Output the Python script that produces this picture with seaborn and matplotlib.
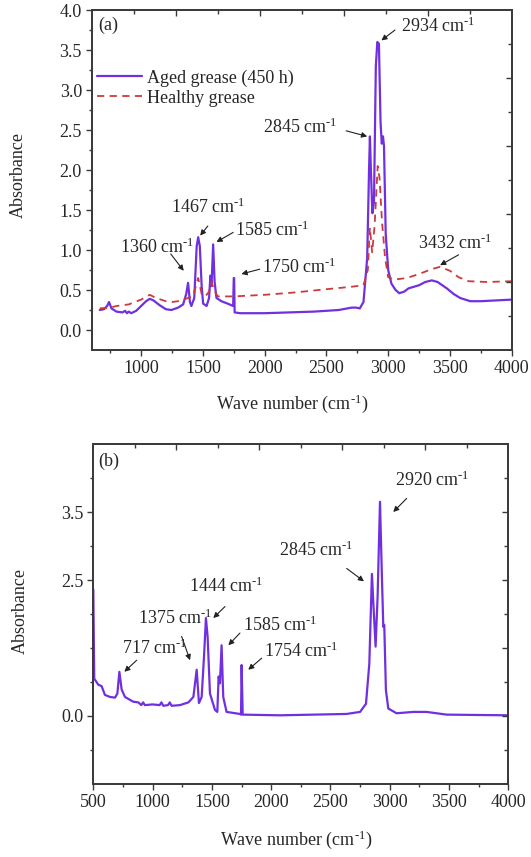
import numpy as np
import pandas as pd
import matplotlib
matplotlib.use("Agg")
import matplotlib.pyplot as plt
import seaborn as sns
from matplotlib.lines import Line2D

# ---------------- data ----------------
# Panel (a): aged grease (450 h)
wave_aged = [665, 700, 725, 740, 760, 800, 850, 870, 885, 900, 920, 960, 1000, 1040, 1070, 1100,
             1150, 1200, 1245, 1300, 1340, 1365, 1380, 1395, 1407, 1430, 1450, 1462, 1475, 1490,
             1502, 1530, 1550, 1561, 1570, 1583, 1595, 1610, 1650, 1700, 1745, 1750, 1753,
             1757, 1800, 2000, 2200, 2400, 2600, 2704, 2740, 2770, 2800, 2830, 2845, 2852,
             2860, 2872, 2885, 2900, 2912, 2925, 2938, 2948, 2958, 2966, 2980, 3000, 3026,
             3060, 3090, 3130, 3164, 3250, 3300, 3353, 3400, 3475, 3530, 3583, 3664, 3750, 4000]
abs_aged = [0.25, 0.26, 0.30, 0.35, 0.27, 0.23, 0.22, 0.24, 0.21, 0.23, 0.21, 0.24, 0.30, 0.36,
            0.39, 0.37, 0.31, 0.26, 0.25, 0.28, 0.32, 0.45, 0.59, 0.35, 0.30, 0.40, 1.05, 1.16,
            1.05, 0.55, 0.33, 0.30, 0.40, 0.68, 0.55, 1.07, 0.60, 0.40, 0.36, 0.33, 0.30, 0.65,
            0.65, 0.22, 0.21, 0.21, 0.22, 0.23, 0.25, 0.28, 0.28, 0.27, 0.35, 0.90, 2.00, 2.42,
            2.00, 1.46, 1.60, 3.30, 3.60, 3.58, 2.60, 2.33, 2.42, 2.30, 1.20, 0.75, 0.58,
            0.50, 0.46, 0.48, 0.52, 0.56, 0.60, 0.62, 0.60, 0.52, 0.45, 0.40, 0.36, 0.36, 0.38]

# Panel (a): healthy grease
wave_healthy = [665, 750, 800, 900, 1000, 1070, 1120, 1200, 1250, 1300, 1380, 1420, 1462, 1490,
                1520, 1550, 1570, 1590, 1620, 1750, 2000, 2250, 2500, 2700, 2800, 2835, 2852,
                2870, 2890, 2915, 2930, 2950, 2975, 3000, 3050, 3150, 3250, 3350, 3420, 3500,
                3570, 3650, 3800, 4000]
abs_healthy = [0.27, 0.28, 0.30, 0.32, 0.38, 0.44, 0.40, 0.36, 0.35, 0.36, 0.40, 0.42, 0.65, 0.45,
               0.42, 0.48, 0.60, 0.50, 0.42, 0.42, 0.44, 0.47, 0.51, 0.54, 0.56, 0.75, 1.28,
               0.97, 1.30, 2.05, 1.90, 1.35, 0.90, 0.66, 0.63, 0.65, 0.70, 0.76, 0.79, 0.74,
               0.66, 0.61, 0.60, 0.61]

# Panel (b): single spectrum
wave_b = [500, 508, 542, 570, 598, 641, 683, 703, 720, 739, 767, 837, 880, 905, 920, 935, 1000,
          1060, 1075, 1090, 1130, 1145, 1160, 1231, 1302, 1344, 1372, 1391, 1414, 1434, 1450,
          1464, 1484, 1526, 1546, 1557, 1568, 1582, 1596, 1624, 1737, 1746, 1751, 1760, 2075,
          2637, 2750, 2800, 2828, 2850, 2862, 2881, 2898, 2918, 2935, 2946, 2954, 2968, 2988,
          3058, 3200, 3311, 3480, 4000]
abs_b = [2.36, 1.05, 0.96, 0.94, 0.81, 0.78, 0.77, 0.83, 1.15, 0.89, 0.78, 0.71, 0.70, 0.66,
         0.70, 0.66, 0.67, 0.66, 0.70, 0.65, 0.66, 0.70, 0.65, 0.66, 0.70, 0.78, 1.18, 0.69,
         0.78, 1.38, 1.94, 1.67, 0.83, 0.59, 0.56, 1.08, 0.98, 1.54, 0.78, 0.56, 0.53, 0.52,
         1.25, 0.52, 0.51, 0.53, 0.56, 0.68, 1.27, 2.59, 2.16, 1.52, 2.26, 3.65, 2.50, 1.81,
         1.84, 0.88, 0.61, 0.54, 0.56, 0.56, 0.52, 0.51]

SUP = "cm$^{\u2010 1}$"
labels_a = ["2934 " + SUP, "2845 " + SUP, "1467 " + SUP, "1585 " + SUP,
            "1360 " + SUP, "1750 " + SUP, "3432 " + SUP]
labels_b = ["2920 " + SUP, "2845 " + SUP, "1444 " + SUP, "1375 " + SUP,
            "1585 " + SUP, "717 " + SUP, "1754 " + SUP]
yticklabels_b = ["0.0", "2.5", "3.5"]

# ---------------- style ----------------
sns.set_style("ticks")
plt.rcParams["font.family"] = ["Liberation Serif", "DejaVu Serif"]
plt.rcParams["mathtext.fontset"] = "custom"
plt.rcParams["mathtext.rm"] = "Liberation Serif"
plt.rcParams["mathtext.it"] = "Liberation Serif:italic"
plt.rcParams["mathtext.bf"] = "Liberation Serif:bold"

PURPLE = "#7030E0"
RED = "#cc3a3a"
SPINE = "#3a3a3a"
FS = 13

fig = plt.figure(figsize=(5.31, 8.57), dpi=100)
ax_a = fig.add_axes([0.1727, 0.5916, 0.7910, 0.3967])
ax_b = fig.add_axes([0.1757, 0.0852, 0.7815, 0.3967])

df_aged = pd.DataFrame({"w": wave_aged, "a": abs_aged})
df_healthy = pd.DataFrame({"w": wave_healthy, "a": abs_healthy})
df_b = pd.DataFrame({"w": wave_b, "a": abs_b})

sns.lineplot(data=df_aged, x="w", y="a", ax=ax_a, color=PURPLE, lw=1.6,
             sort=False, estimator=None, label="Aged grease (450 h)")
sns.lineplot(data=df_healthy, x="w", y="a", ax=ax_a, color=RED, lw=1.3,
             sort=False, estimator=None, label="Healthy grease", dashes=False)
ax_a.lines[-1].set_linestyle((0, (4, 3)))
sns.lineplot(data=df_b, x="w", y="a", ax=ax_b, color=PURPLE, lw=1.6,
             sort=False, estimator=None)


def frame(ax):
    for s in ax.spines.values():
        s.set_color(SPINE)
        s.set_linewidth(1.1)
        s.set_visible(True)
    ax.tick_params(axis="both", which="major", direction="out", length=4, width=1,
                   color=SPINE, labelsize=FS, pad=3, top=False, right=False)
    ax.tick_params(axis="both", which="minor", direction="out", length=2.5, width=1,
                   color=SPINE, top=False, right=False)
    # decorative top/right ticks at tenths of the frame
    tx = ax.twiny()
    tx.set_xlim(0, 10)
    tx.set_xticks([2, 4, 6, 8])
    tx.set_xticks([1, 3, 5, 7, 9], minor=True)
    tx.tick_params(axis="x", which="both", direction="in", labeltop=False, color=SPINE, width=1)
    tx.tick_params(axis="x", which="major", length=4)
    tx.tick_params(axis="x", which="minor", length=3)
    ty = ax.twinx()
    ty.set_ylim(0, 10)
    ty.set_yticks([2, 4, 6, 8])
    ty.set_yticks([1, 3, 5, 7, 9], minor=True)
    ty.tick_params(axis="y", which="both", direction="in", labelright=False, color=SPINE, width=1)
    ty.tick_params(axis="y", which="major", length=4)
    ty.tick_params(axis="y", which="minor", length=3)
    for t in (tx, ty):
        for s in t.spines.values():
            s.set_color(SPINE)
            s.set_linewidth(1.1)


def arrow(ax, tip, tail):
    ax.annotate("", xy=tip, xytext=tail,
                arrowprops=dict(arrowstyle="-|>", color="#222222", lw=0.8,
                                mutation_scale=8, shrinkA=0, shrinkB=0))


# ---------------- panel (a) ----------------
ax_a.set_xlim(600, 4000)
ax_a.set_ylim(-0.25, 4.0)
ax_a.set_xticks(np.arange(1000, 4001, 500))
ax_a.set_xticks(np.arange(750, 4000, 500), minor=True)
ax_a.set_yticks(np.arange(0, 4.01, 0.5))
ax_a.set_yticks(np.arange(0.25, 4.0, 0.5), minor=True)
ax_a.set_yticklabels([f"{v:.1f}" for v in np.arange(0, 4.01, 0.5)])
ax_a.set_xlabel("Wave number (" + SUP + ")", fontsize=FS)
ax_a.set_ylabel("Absorbance", fontsize=FS)
ax_a.xaxis.set_label_coords(0.477, -0.125)
ax_a.yaxis.set_label_coords(-0.155, 0.515)
ax_a.text(0.015, 0.956, "(a)", transform=ax_a.transAxes, ha="left", va="center", fontsize=FS)

handles = [Line2D([], [], color=PURPLE, lw=1.6),
           Line2D([], [], color=RED, lw=1.3, linestyle=(0, (4, 3)))]
ax_a.legend(handles, ["Aged grease (450 h)", "Healthy grease"], loc="upper left",
            bbox_to_anchor=(0.012, 0.825), frameon=False, fontsize=FS, handlelength=2.5,
            handletextpad=0.3, labelspacing=0.15, borderpad=0, borderaxespad=0)

ann_a = [  # text position, arrow tip, arrow tail
    ((3100, 3.80), (2945, 3.62), (3055, 3.75)),
    ((1990, 2.54), (2830, 2.42), (2660, 2.49)),
    ((1240, 1.54), (1478, 1.18), (1540, 1.30)),
    ((1760, 1.25), (1610, 1.10), (1745, 1.22)),
    ((830, 1.03), (1345, 0.74), (1240, 0.95)),
    ((1975, 0.79), (1812, 0.70), (1960, 0.76)),
    ((3245, 1.08), (3420, 0.81), (3570, 0.94)),
]
for lab, (tp, tip, tail) in zip(labels_a, ann_a):
    ax_a.text(tp[0], tp[1], lab, ha="left", va="center", fontsize=FS)
    arrow(ax_a, tip, tail)
frame(ax_a)

# ---------------- panel (b) ----------------
ax_b.set_xlim(500, 4000)
ax_b.set_ylim(-0.5, 4.5)
ax_b.set_xticks(np.arange(500, 4001, 500))
ax_b.set_xticks(np.arange(750, 4000, 500), minor=True)
ax_b.set_yticks([0.5, 2.5, 3.5])
ax_b.set_yticklabels(yticklabels_b)
ax_b.set_yticks([0.0, 1.0, 1.5, 2.0, 3.0, 4.0], minor=True)
ax_b.set_xlabel("Wave number (" + SUP + ")", fontsize=FS)
ax_b.set_ylabel("Absorbance", fontsize=FS)
ax_b.xaxis.set_label_coords(0.49, -0.13)
ax_b.yaxis.set_label_coords(-0.155, 0.51)
ax_b.text(0.012, 0.948, "(b)", transform=ax_b.transAxes, ha="left", va="center", fontsize=FS)

ann_b = [
    ((3045, 3.97), (3030, 3.50), (3143, 3.70)),
    ((2066, 2.94), (2783, 2.48), (2637, 2.67)),
    ((1307, 2.40), (1512, 1.94), (1611, 2.11)),
    ((877, 1.94), (1316, 1.32), (1245, 1.67)),
    ((1763, 1.84), (1639, 1.54), (1737, 1.72)),
    ((739, 1.50), (762, 1.15), (866, 1.32)),
    ((1941, 1.45), (1807, 1.18), (1920, 1.35)),
]
for lab, (tp, tip, tail) in zip(labels_b, ann_b):
    ax_b.text(tp[0], tp[1], lab, ha="left", va="center", fontsize=FS)
    arrow(ax_b, tip, tail)
frame(ax_b)

fig.savefig("out.png", dpi=100)
